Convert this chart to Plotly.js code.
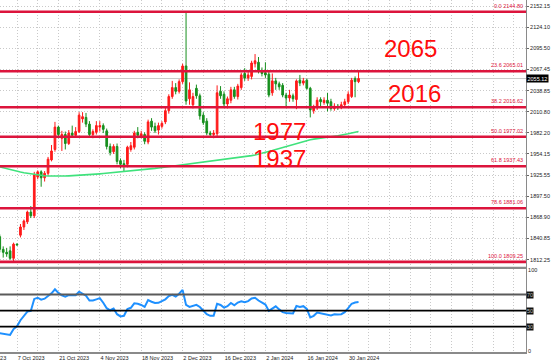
<!DOCTYPE html>
<html>
<head>
<meta charset="utf-8">
<script src="https://cdn.plot.ly/plotly-3.0.1.min.js"></script>
<style>html,body{margin:0;padding:0;background:#fff;}#chart{width:554px;height:363px;}</style>
</head>
<body>
<div id="chart"></div>
<script>
// ---- Daily candles ----
const openP  = [1843,1826,1822,1824,1814,1833,1845,1856,1863,1876,1871,1923,1930,1922,1928,1946,1960,1990,1975,1980,1968,1982,1979,1984,2001,2003,1994,1980,1983,1990,1992,1985,1964,1957,1964,1945,1941,1940,1960,1963,1983,1978,1980,1970,1998,1991,1986,1991,1997,2012,2031,2043,2038,2051,2072,2028,2020,2042,2032,2006,1998,1982,1980,1981,2038,2034,2021,2026,2040,2031,2043,2062,2056,2058,2075,2077,2066,2063,2061,2036,2052,2048,2046,2033,2029,2032,2027,2053,2049,2053,2042,2012,2016,2027,2023,2026,2024,2015,2018,2016,2020,2024,2031,2055,2051];
const highP  = [1846,1830,1828,1830,1835,1834,1860,1866,1878,1884,1930,1932,1932,1931,1950,1966,1997,1992,1985,1984,1986,1992,1990,2010,2010,2009,1998,1987,1998,1998,1995,1988,1968,1967,1968,1948,1946,1965,1970,1985,1990,1985,1983,2000,2002,1996,1996,1998,2016,2034,2052,2049,2054,2075,2145,2050,2036,2047,2035,2010,2002,1985,1986,2046,2045,2038,2031,2044,2044,2048,2063,2069,2064,2079,2088,2084,2070,2077,2064,2062,2056,2051,2049,2036,2040,2035,2054,2060,2056,2055,2044,2020,2030,2030,2030,2036,2028,2022,2021,2024,2028,2038,2056,2058,2065];
const lowP   = [1822,1815,1816,1812,1810,1831,1842,1852,1860,1868,1868,1920,1910,1917,1925,1944,1957,1975,1958,1960,1966,1976,1977,1982,1996,1990,1978,1975,1980,1984,1982,1960,1952,1954,1940,1935,1930,1936,1957,1960,1975,1975,1967,1967,1985,1982,1980,1988,1994,2008,2028,2034,2035,2048,2020,2020,2015,2028,2000,1993,1979,1976,1975,1978,2028,2016,2015,2022,2028,2027,2040,2052,2052,2054,2070,2062,2058,2056,2030,2032,2040,2040,2030,2017,2024,2024,2014,2045,2046,2040,2003,2008,2013,2018,2020,2011,2012,2012,2013,2014,2017,2021,2029,2030,2049];
const closeP = [1826,1822,1820,1814,1833,1832,1856,1864,1876,1871,1926,1930,1922,1928,1947,1958,1990,1980,1980,1968,1982,1979,1984,2006,2004,1994,1980,1984,1992,1992,1987,1964,1956,1964,1944,1940,1939,1963,1965,1982,1979,1981,1971,1997,1990,1985,1992,1995,2012,2031,2043,2038,2051,2072,2025,2040,2031,2032,2005,1996,1982,1980,1982,2036,2032,2021,2028,2040,2031,2045,2060,2056,2060,2076,2079,2065,2062,2060,2033,2052,2048,2044,2033,2029,2033,2028,2052,2049,2052,2042,2013,2016,2026,2024,2026,2022,2015,2018,2016,2020,2024,2034,2053,2051,2055.12];

// ---- Moving average (green) ----
const maLine = [1936.5,1935.2,1934.0,1932.9,1931.7,1930.6,1929.7,1928.7,1927.9,1927.0,1926.3,1925.8,1925.2,1924.8,1924.5,1924.3,1924.1,1924.2,1924.3,1924.4,1924.6,1924.8,1925.0,1925.3,1925.6,1925.9,1926.2,1926.6,1926.9,1927.3,1927.7,1928.1,1928.4,1928.9,1929.3,1929.7,1930.1,1930.6,1931.0,1931.5,1932.0,1932.5,1933.0,1933.6,1934.0,1934.6,1935.2,1935.8,1936.4,1937.0,1937.6,1938.2,1938.8,1939.4,1940.0,1940.6,1941.1,1941.6,1942.1,1942.6,1943.1,1943.6,1944.1,1944.7,1945.3,1945.9,1946.5,1947.1,1947.8,1948.5,1949.2,1950.0,1950.8,1951.7,1952.7,1953.7,1954.8,1956.0,1957.3,1958.6,1960.0,1961.4,1962.8,1964.2,1965.6,1967.0,1968.4,1969.7,1970.9,1972.0,1973.0,1973.9,1974.7,1975.4,1976.0,1976.6,1977.1,1977.7,1978.3,1979.0,1980.0,1981.1,1982.2,1983.2,1984.2];

// ---- RSI ----
const rsiLine = [21.9,21,20.5,19.8,27,30.5,38,44,48.8,49.6,64.5,66,63.5,64.8,68,71.5,76.5,72,69,67.2,69.2,69.3,69,73.5,71.5,68.5,62.5,62.5,64,65.5,59.8,53,50.4,52.5,45.5,42.7,43.5,52,53.5,59,58.5,57,54.5,63,61,59.5,59.6,61.8,64,68,69.5,67.5,71,75.8,57,54.6,56,57.2,54.5,49.6,45.5,43.5,43.6,58.5,57,53.7,55.5,59.5,56.5,60,61.5,60.5,61.8,65,66,62.5,59.5,57.5,49.6,52.5,55.3,51.5,48,47,46.4,46.4,55.7,54.5,55.5,52,41.5,43.5,47.6,46.8,45.8,45.2,44,45.5,45,45.5,48,53,58.5,60,60.6];
const rsiLevels = [70, 50, 30];
const rsiLevelColors = ['#5a5a5a', '#000000', '#000000'];

// ---- Axis labels ----
const priceTicks = [2152.15,2124.10,2095.50,2067.45,2038.85,2010.80,1982.20,1954.15,1925.55,1897.50,1868.90,1840.85,1812.25];
const dateTickIdx = [5,17,29,41,53,65,77,89,101];
const dateTickText = ['7 Oct 2023','21 Oct 2023','4 Nov 2023','18 Nov 2023','2 Dec 2023','16 Dec 2023','2 Jan 2024','16 Jan 2024','30 Jan 2024'];
const firstDateLabel = '23 Sep 2023';

// ---- Fibonacci retracement ----
const fibRatios = ['0.0','23.6','38.2','50.0','61.8','78.6','100.0'];
const fibPrices = [2144.80,2065.01,2016.62,1977.02,1937.43,1881.06,1809.25];
const bigLabels = ['2065','2016','1977','1937'];
const lastPrice = 2055.12;

const idx = openP.map((_, i) => i);

const H = 363, MB = 10.5, PH = H - MB;
const mainBottom = (PH - 268) / PH;
const rsiTop = (PH - 269) / PH;
const fibColor = '#dc143c';
const tickFont = {family: 'Liberation Sans, Arial, sans-serif', size: 5.5, color: '#222'};

const traces = [
  {type: 'scatter', mode: 'lines', x: idx, y: maLine, xaxis: 'x', yaxis: 'y',
   line: {color: '#3fe27c', width: 1.6}, hoverinfo: 'skip'},
  {type: 'candlestick', x: idx, open: openP, high: highP, low: lowP, close: closeP,
   xaxis: 'x', yaxis: 'y', whiskerwidth: 0,
   increasing: {line: {color: '#ff1a1a', width: 1}, fillcolor: '#ff1a1a'},
   decreasing: {line: {color: '#178f1e', width: 1}, fillcolor: '#178f1e'}},
  {type: 'scatter', mode: 'lines', x: idx, y: rsiLine, xaxis: 'x', yaxis: 'y2',
   line: {color: '#1e90ff', width: 2}, hoverinfo: 'skip'}
];

const shapes = [];
const annotations = [];
// current price line
shapes.push({type: 'line', xref: 'paper', x0: 0, x1: 1, yref: 'y', y0: lastPrice, y1: lastPrice,
  line: {color: '#c8c8c8', width: 1}, layer: 'below'});
fibPrices.forEach((p, k) => {
  shapes.push({type: 'line', xref: 'paper', x0: 0, x1: 1, yref: 'y', y0: p, y1: p,
    line: {color: fibColor, width: 2.6}});
  annotations.push({xref: 'paper', x: 1, xanchor: 'right', xshift: -1, yref: 'y', y: p,
    yanchor: 'bottom', yshift: 1, text: fibRatios[k] + ' ' + p.toFixed(2), showarrow: false,
    font: {family: 'Liberation Sans, Arial, sans-serif', size: 5.5, color: fibColor}});
});
rsiLevels.forEach((v, k) => {
  shapes.push({type: 'line', xref: 'paper', x0: 0, x1: 1, yref: 'y2', y0: v, y1: v,
    line: {color: rsiLevelColors[k], width: k === 0 ? 2 : 1.6}});
  annotations.push({xref: 'paper', x: 1, xanchor: 'left', yref: 'y2', y: v, yanchor: 'middle',
    text: String(v), showarrow: false, bgcolor: '#111', borderpad: 0,
    font: {family: 'Liberation Sans, Arial, sans-serif', size: 5.5, color: '#bbb'}});
});
// separator between panels
shapes.push({type: 'line', xref: 'paper', x0: 0, x1: 1, yref: 'paper', y0: mainBottom, y1: mainBottom,
  line: {color: '#8a8a8a', width: 1.5}});

// big level labels
const bigPos = [[119.2, 2095.5], [120.1, 2034.6], [81.2, 1984.5], [81.2, 1947.9]];
bigLabels.forEach((t, k) => {
  annotations.push({xref: 'x', x: bigPos[k][0], yref: 'y', y: bigPos[k][1], xanchor: 'center', yanchor: 'middle',
    text: t, showarrow: false, font: {family: 'Liberation Sans, Arial, sans-serif', size: 24, color: '#ff0d0d'}});
});
// last price box
annotations.push({xref: 'paper', x: 1, xanchor: 'left', yref: 'y', y: lastPrice, yanchor: 'middle',
  text: lastPrice.toFixed(2), showarrow: false, bgcolor: '#000', borderpad: 0.5,
  font: {family: 'Liberation Sans, Arial, sans-serif', size: 5.5, color: '#fff'}});
// partially hidden first date label (its tick lies left of the visible range)
annotations.push({xref: 'paper', x: 8 / 526, xanchor: 'right', yref: 'paper', y: 0, yanchor: 'top', yshift: -1,
  text: firstDateLabel, showarrow: false, font: tickFont});

const gridColor = '#c9c9c9';
const layout = {
  width: 554, height: H,
  margin: {l: 0, r: 28, t: 0, b: MB, pad: 0},
  paper_bgcolor: '#ffffff', plot_bgcolor: '#ffffff',
  showlegend: false,
  xaxis: {
    range: [0.07, 152.54], domain: [0, 1], anchor: 'y2',
    rangeslider: {visible: false},
    tickmode: 'array', tickvals: dateTickIdx, ticktext: dateTickText,
    ticklabelposition: 'outside right', ticks: '', tickfont: tickFont,
    showgrid: true, gridcolor: gridColor, griddash: '1px,2px', gridwidth: 1,
    minor: {tick0: -1, dtick: 6, showgrid: true, gridcolor: gridColor, griddash: '1px,2px', ticks: ''},
    showline: true, linecolor: '#8a8a8a', linewidth: 1.5, mirror: true, zeroline: false
  },
  yaxis: {
    domain: [mainBottom, 1], range: [1801.5, 2160.5], side: 'right', anchor: 'x',
    tickmode: 'array', tickvals: priceTicks, ticktext: priceTicks.map(v => v.toFixed(2)),
    ticks: 'outside', ticklen: 2, tickcolor: '#666', tickfont: tickFont,
    showgrid: true, gridcolor: gridColor, griddash: '1px,2px',
    showline: true, linecolor: '#8a8a8a', linewidth: 1, zeroline: false
  },
  yaxis2: {
    domain: [0, rsiTop], range: [-1.5, 102.2], side: 'right', anchor: 'x',
    tickmode: 'array', tickvals: [100, 0], ticktext: ['100', '0'],
    ticks: '', tickfont: tickFont, showgrid: false,
    showline: true, linecolor: '#8a8a8a', linewidth: 1, zeroline: false
  },
  shapes: shapes,
  annotations: annotations
};

Plotly.newPlot('chart', traces, layout, {staticPlot: true, displayModeBar: false});
</script>
</body>
</html>
